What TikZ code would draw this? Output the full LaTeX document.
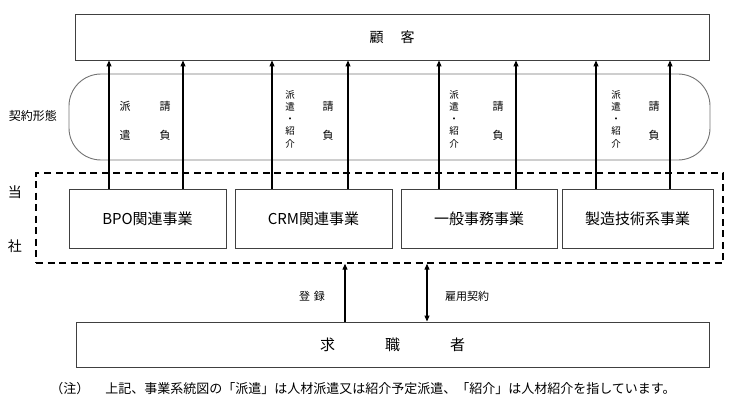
\documentclass[tikz,border=0pt]{standalone}
\usepackage{fontspec}
\setmainfont{Noto Sans CJK JP}
\usetikzlibrary{arrows.meta,calc}
\begin{document}
\begin{tikzpicture}[x=1pt,y=-1pt,
  box/.style={draw=black!75, line width=0.9pt, inner sep=0pt, rectangle},
  arr/.style={-{Triangle[length=6pt,width=5pt]}, line width=1.1pt},
  darr/.style={{Triangle[length=6pt,width=5pt]}-{Triangle[length=6pt,width=5pt]}, line width=1.1pt},
  lab/.style={font=\fontsize{11}{14}\selectfont, inner sep=0pt},
  slab/.style={font=\fontsize{9.5}{12.3}\selectfont, inner sep=0pt, align=center},
  biz/.style={box, minimum height=59pt, font=\fontsize{15}{18}\selectfont},
  side/.style={font=\fontsize{14}{16}\selectfont, inner sep=0pt}]
\useasboundingbox (0,0) rectangle (746,409);
% customer
\node[box, minimum width=634pt, minimum height=46pt, font=\fontsize{14}{16}\selectfont] (cust) at (392,37) {顧\hspace{17pt}客};
% contract form band
\node[draw=black!55, line width=0.9pt, rounded corners=32pt, minimum width=641pt, minimum height=86pt, inner sep=0pt] (contract) at (389.5,117) {};
\node[font=\fontsize{12}{14}\selectfont, inner sep=0pt] (ktext) at (33,116) {契約形態};
% company dashed frame
\node[draw=black, line width=1.4pt, dash pattern=on 7pt off 4.5pt, minimum width=687pt, minimum height=90pt, inner sep=0pt] (company) at (379.5,218) {};
\node[side] (tou) at (15,192) {当};
\node[side] (sha) at (15,246) {社};
% businesses
\node[biz, minimum width=157pt] (b1) at (147.5,218.5) {BPO関連事業};
\node[biz, minimum width=157pt] (b2) at (313.5,218.5) {CRM関連事業};
\node[biz, minimum width=156pt] (b3) at (479,218.5) {一般事務事業};
\node[biz, minimum width=151pt] (b4) at (637.5,218.5) {製造技術系事業};
% job seekers
\node[box, minimum width=633pt, minimum height=45pt, font=\fontsize{15}{18}\selectfont] (seek) at (392.5,344.5) {求\hspace{50pt}職\hspace{50pt}者};
% arrows to customer
\foreach \b/\l/\r in {b1/-38.5/35.5, b2/-41.5/34.5, b3/-40/37, b4/-41.5/32.5}{
  \draw[arr] ([xshift=\l pt]\b.north) -- ([xshift=\l pt]\b.north |- cust.south);
  \draw[arr] ([xshift=\r pt]\b.north) -- ([xshift=\r pt]\b.north |- cust.south);
}
% contract labels
\node[lab] (h1a) at (125,106) {派};
\node[lab] (h1b) at (125,135) {遣};
\node[lab] (u1a) at (165,106) {請};
\node[lab] (u1b) at (165,135) {負};
\node[slab] (h2) at (290,119) {派\\遣\\・\\紹\\介};
\node[lab] (u2a) at (328,106) {請};
\node[lab] (u2b) at (328,135) {負};
\node[slab] (h3) at (454,119) {派\\遣\\・\\紹\\介};
\node[lab] (u3a) at (498,106) {請};
\node[lab] (u3b) at (498,135) {負};
\node[slab] (h4) at (616,119) {派\\遣\\・\\紹\\介};
\node[lab] (u4a) at (654,106) {請};
\node[lab] (u4b) at (654,135) {負};
% registration / employment
\draw[arr] ([xshift=-47.5pt]seek.north) -- ([xshift=-47.5pt]seek.north |- company.south);
\node[lab] (reg) at (312,296) {登\hspace{4pt}録};
\draw[darr] ([xshift=34.5pt]seek.north) -- ([xshift=34.5pt]seek.north |- company.south);
\node[lab] (emp) at (467,296) {雇用契約};
% note
\node[font=\fontsize{13}{15}\selectfont, inner sep=0pt] (note) at (363,389) {（注）\hspace{16pt}上記、事業系統図の「派遣」は人材派遣又は紹介予定派遣、「紹介」は人材紹介を指しています。};
\end{tikzpicture}
\end{document}
